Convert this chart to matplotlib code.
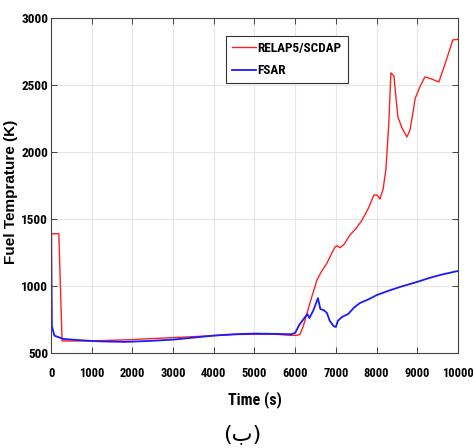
import matplotlib
matplotlib.use('Agg')
import matplotlib.pyplot as plt

# data
t_relap = [0, 10, 30, 190, 270, 500, 1000, 1500, 2000, 2500, 3000, 3500, 4000, 4500,
           5000, 5500, 5900, 6050, 6120, 6200, 6314, 6420, 6536, 6650, 6781, 6900,
           6978, 7030, 7100, 7200, 7346, 7500, 7641, 7800, 7936, 8010, 8084, 8160,
           8230, 8300, 8354, 8428, 8480, 8526, 8624, 8747, 8820, 8894, 8950, 9066,
           9189, 9350, 9533, 9700, 9877, 10000]
fuel_relap = [620, 1385, 1390, 1390, 590, 590, 590, 595, 600, 608, 615, 622, 630, 638,
              640, 640, 632, 632, 640, 700, 820, 930, 1045, 1110, 1170, 1245,
              1290, 1300, 1285, 1310, 1380, 1430, 1490, 1580, 1679, 1680, 1649, 1720,
              1866, 2200, 2590, 2567, 2400, 2261, 2180, 2112, 2160, 2290, 2400, 2485,
              2560, 2545, 2522, 2670, 2836, 2840]

t_fsar = [0, 20, 80, 300, 600, 1000, 1300, 1500, 1800, 2000, 2400, 3000, 3500, 4000,
          4500, 5000, 5500, 5900, 6000, 6100, 6200, 6300, 6350, 6450, 6560, 6620,
          6700, 6780, 6850, 6950, 7000, 7050, 7150, 7300, 7450, 7592, 7800, 8010,
          8300, 8600, 8993, 9300, 9600, 10000]
fuel_fsar = [1390, 700, 630, 605, 598, 590, 586, 585, 583, 585, 590, 600, 615, 630,
             640, 645, 643, 640, 650, 709, 750, 791, 761, 820, 910, 828,
             820, 800, 740, 700, 694, 740, 769, 790, 840, 873, 900, 933,
             965, 995, 1030, 1060, 1085, 1112]

xticks = [0, 1000, 2000, 3000, 4000, 5000, 6000, 7000, 8000, 9000, 10000]
yticks = [500, 1000, 1500, 2000, 2500, 3000]

# condensed bold font for ticks / legend (falls back to Liberation Sans)
narrow = ['Liberation Sans Narrow', 'Arial Narrow', 'Roboto Condensed',
          'Barlow Condensed', 'Liberation Sans', 'DejaVu Sans']

fig = plt.figure(figsize=(4.73, 4.48), dpi=100)
ax = fig.add_axes([0.108, 0.212, 0.860, 0.748])

ax.plot(t_relap, fuel_relap, color='#ff2020', linewidth=1.0, label='RELAP5/SCDAP')
ax.plot(t_fsar, fuel_fsar, color='#1a1aff', linewidth=1.3, label='FSAR')

ax.set_xlim(0, 10000)
ax.set_ylim(500, 3000)
ax.set_xticks(xticks)
ax.set_yticks(yticks)
ax.set_xticklabels([str(v) for v in xticks], family=narrow, fontweight='bold', fontsize=9)
ax.set_yticklabels([str(v) for v in yticks], family=narrow, fontweight='bold', fontsize=9.5)
ax.tick_params(direction='in', top=True, right=True, length=4, width=0.7,
               color='#444444')
ax.tick_params(axis='x', pad=10)
ax.tick_params(axis='y', pad=2)
ax.grid(True, color='#e6e6e6', linewidth=0.8)
for s in ax.spines.values():
    s.set_color('#444444')
    s.set_linewidth(0.8)

ax.set_xlabel('Time (s)', family=narrow, fontweight='bold', fontsize=11.5)
ax.xaxis.set_label_coords(0.5, -0.115)
ax.set_ylabel('Fuel Temprature (K)', family=['Liberation Sans', 'DejaVu Sans'],
              fontweight='bold', fontsize=11)
ax.yaxis.set_label_coords(-0.082, 0.48)

leg = ax.legend(loc='upper left', bbox_to_anchor=(0.43, 0.946), fancybox=False,
                prop={'family': narrow, 'weight': 'bold', 'size': 9.5},
                handlelength=1.8, handletextpad=0.15, borderpad=0.45, labelspacing=0.7,
                borderaxespad=0, framealpha=1)
leg.get_frame().set_edgecolor('#333333')
leg.get_frame().set_linewidth(0.8)

fig.text(0.512, 0.03, '(ب)', ha='center', va='center', fontsize=16,
         family=['DejaVu Sans'])

plt.savefig('out.png', dpi=100)
plt.close()
